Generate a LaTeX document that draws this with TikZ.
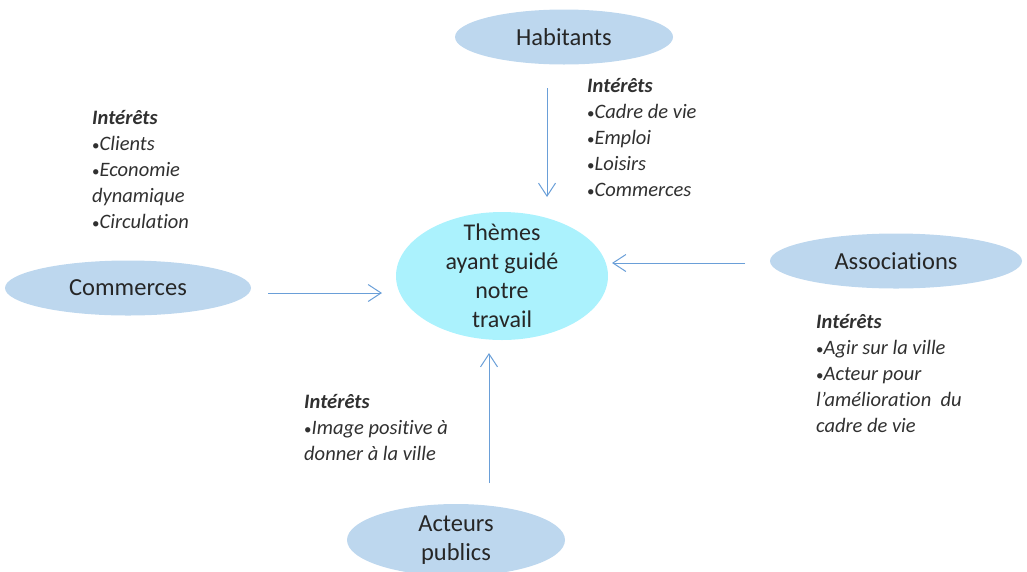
\documentclass[tikz,border=0pt]{standalone}
\usepackage{fontspec}
\setmainfont{Carlito}[Ligatures=NoCommon]
\usetikzlibrary{arrows.meta,shapes.geometric}
\definecolor{ellblue}{HTML}{BDD7EE}
\definecolor{ctrcyan}{HTML}{ABF2FD}
\definecolor{arrblue}{HTML}{6A9FD8}
\definecolor{lbltxt}{HTML}{262626}
\definecolor{inttxt}{HTML}{303030}
\newcommand\itembul{{\upshape\fontsize{15}{15}\selectfont\textbullet}}
\begin{document}
\begin{tikzpicture}[x=1pt,y=-1pt,
  actor/.style={ellipse, fill=ellblue, draw=none, inner sep=0pt, minimum width=218pt, minimum height=55pt},
  hub/.style={ellipse, fill=ctrcyan, draw=none, inner sep=0pt, minimum width=212pt, minimum height=128pt},
  lbl/.style={text=lbltxt, font=\fontsize{24.5}{29}\selectfont, align=center, inner sep=0pt},
  hublbl/.style={text=lbltxt, font=\fontsize{24}{29}\selectfont, align=center, inner sep=0pt},
  interest/.style={text=inttxt, font=\fontsize{20.5}{25.8}\selectfont\itshape, align=left, inner sep=0pt, anchor=base west},
  conn/.style={draw=arrblue, line width=1pt, -{Straight Barb[length=13pt,width=17pt,line width=1pt]}}]
\useasboundingbox (0,0) rectangle (1027,571);
% hub
\node[hub, label={[hublbl]center:Thèmes\\ayant guidé\\notre\\travail}] (c) at (502,276) {};
% actors
\node[actor, label={[lbl]center:Habitants}] (h) at (564,37) {};
\node[actor, minimum width=246pt, label={[lbl]center:Commerces}] (m) at (128,288) {};
\node[actor, minimum width=252pt, label={[lbl]center:Associations}] (a) at (896,261) {};
\node[actor, minimum height=72pt, label={[lbl]center:Acteurs\\publics}] (p) at (456,540) {};
% connector end points
\coordinate (h1) at (547,88);   \coordinate (h2) at (547,197);
\coordinate (m1) at (268,293);  \coordinate (m2) at (382,293);
\coordinate (a1) at (745,263);  \coordinate (a2) at (612,263);
\coordinate (p1) at (489,483);  \coordinate (p2) at (489,353);
\draw[conn] (h1) -- (h2);
\draw[conn] (m1) -- (m2);
\draw[conn] (a1) -- (a2);
\draw[conn] (p1) -- (p2);
% interests (anchor is the baseline of the last line)
\node[interest] (ih) at (587,196) {\textbf{Intérêts}\\\itembul Cadre de vie\\\itembul Emploi\\\itembul Loisirs\\\itembul Commerces};
\node[interest] (im) at (92,228) {\textbf{Intérêts}\\\itembul Clients\\\itembul Economie\\dynamique\\\itembul Circulation};
\node[interest] (ia) at (816,432) {\textbf{Intérêts}\\\itembul Agir sur la ville\\\itembul Acteur pour\\l’amélioration\ \ du\\cadre de vie};
\node[interest] (ip) at (304,460) {\textbf{Intérêts}\\\itembul Image positive à\\donner à la ville};
\end{tikzpicture}
\end{document}
